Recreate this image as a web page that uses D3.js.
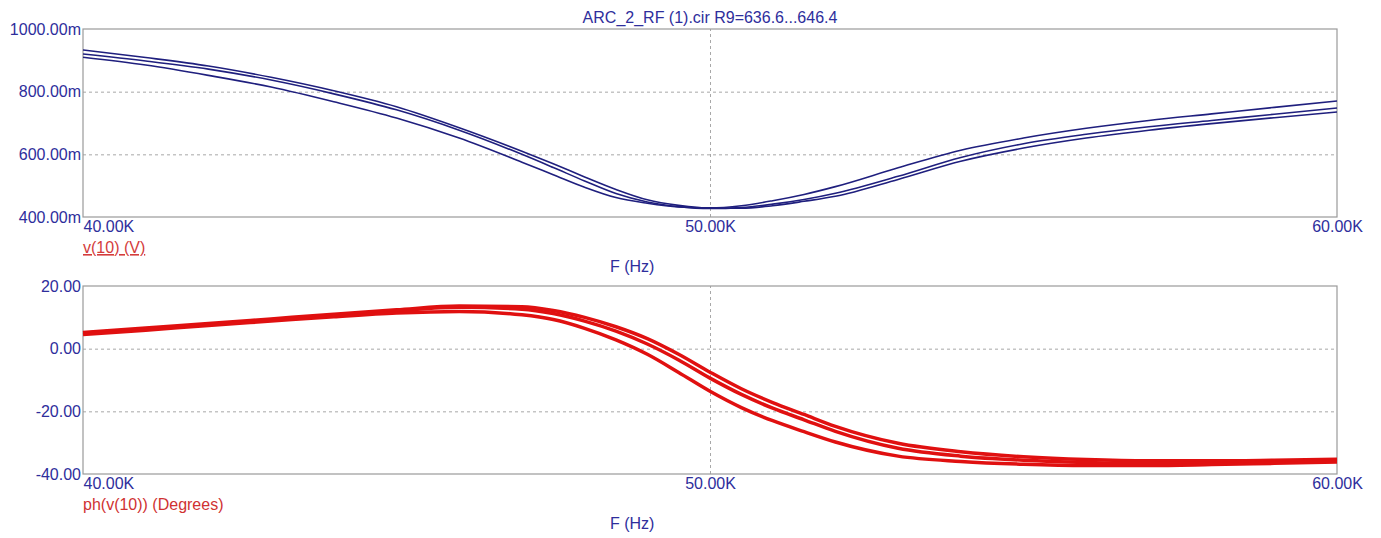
<!DOCTYPE html>
<html>
<head>
<meta charset="utf-8">
<script src="https://cdn.jsdelivr.net/npm/d3@7"></script>
<style>
  body { margin: 0; background: #fff; }
  svg { display: block; font-family: "Liberation Sans", Arial, sans-serif; }
</style>
</head>
<body>
<svg id="chart" width="1381" height="538"></svg>
<script>
// frequency points (kHz)
const freq = [40, 41, 42, 43, 44, 45, 46, 47, 47.5, 48, 48.5, 49, 49.5, 50, 50.5, 51, 51.5, 52, 53, 54, 55, 56, 57, 58, 59, 60];

// v(10) in mV, one array per R9 step
const magA = [933, 909, 882, 846, 803, 752, 685, 610, 570, 528, 488, 455, 437, 428, 428, 436, 450, 466, 520, 578, 620, 652, 677, 698, 717, 735];
const magB = [920, 898, 872, 837, 793, 742, 677, 600, 558, 515, 475, 448, 433, 427, 430, 441, 456, 476, 530, 590, 634, 664, 688, 708, 728, 748];
const magC = [910, 885, 852, 815, 768, 716, 652, 575, 535, 495, 462, 444, 432, 429, 436, 452, 472, 497, 557, 613, 652, 683, 708, 729, 750, 770];

// ph(v(10)) in degrees
const phA = [5.2, 6.6, 8.0, 9.5, 11.0, 12.4, 13.6, 13.4, 12.2, 10.0, 7.0, 3.2, -1.8, -7.5, -12.8, -17.2, -21.0, -24.8, -30.2, -32.9, -34.5, -35.4, -35.8, -35.8, -35.6, -35.3];
const phB = [4.9, 6.3, 7.7, 9.2, 10.7, 12.1, 13.2, 12.6, 11.2, 8.8, 5.6, 1.5, -3.6, -9.4, -14.6, -19.0, -22.7, -26.4, -31.8, -34.3, -35.6, -36.3, -36.6, -36.5, -36.2, -35.9];
const phC = [4.5, 5.9, 7.4, 8.8, 10.2, 11.4, 11.9, 10.8, 9.3, 6.5, 2.8, -1.8, -7.6, -13.6, -18.8, -23.0, -26.5, -29.8, -34.3, -36.0, -36.9, -37.3, -37.3, -37.0, -36.6, -36.2];

const xTicks = [40, 50, 60];
const magTicks = [400, 600, 800, 1000];
const phTicks = [-40, -20, 0, 20];

const title = "ARC_2_RF (1).cir R9=636.6...646.4";

const blue = "#2e2e9c";
const svg = d3.select("#chart");

const left = 83, right = 1337;
const x = d3.scaleLinear().domain([40, 60]).range([left, right]);

svg.append("text")
  .attr("x", 710).attr("y", 23)
  .attr("text-anchor", "middle")
  .style("font-size", "16px").style("fill", blue)
  .text(title);

function panel(cfg) {
  const y = d3.scaleLinear().domain(cfg.domain).range([cfg.bottom, cfg.top]);
  const g = svg.append("g");

  // grid
  g.append("g")
    .attr("transform", `translate(${left},0)`)
    .call(d3.axisLeft(y).tickValues(cfg.ticks.slice(1, -1)).tickSize(-(right - left)).tickFormat(""))
    .call(s => s.select(".domain").remove())
    .selectAll("line").attr("stroke", "#a8a8a8").attr("stroke-dasharray", "3,3");
  g.append("g")
    .attr("transform", `translate(0,${cfg.bottom})`)
    .call(d3.axisBottom(x).tickValues([50]).tickSize(-(cfg.bottom - cfg.top)).tickFormat(""))
    .call(s => s.select(".domain").remove())
    .selectAll("line").attr("stroke", "#a8a8a8").attr("stroke-dasharray", "3,3");

  // frame
  g.append("rect")
    .attr("x", left).attr("y", cfg.top)
    .attr("width", right - left).attr("height", cfg.bottom - cfg.top)
    .attr("fill", "none").attr("stroke", "#9a9a9a").attr("stroke-width", 1.2);

  // y labels
  g.append("g")
    .attr("transform", `translate(${left - 2},0)`)
    .call(d3.axisLeft(y).tickValues(cfg.ticks).tickSize(0).tickPadding(0).tickFormat(cfg.fmt))
    .call(s => s.select(".domain").remove())
    .selectAll("text")
    .style("font-size", "16px").style("fill", blue).style("font-family", "Liberation Sans, Arial, sans-serif");

  // x labels
  const xa = g.append("g")
    .attr("transform", `translate(0,${cfg.bottom})`)
    .call(d3.axisBottom(x).tickValues(xTicks).tickSize(0).tickPadding(4).tickFormat(d => d.toFixed(2) + "K"));
  xa.select(".domain").remove();
  xa.selectAll("text")
    .style("font-size", "16px").style("fill", blue).style("font-family", "Liberation Sans, Arial, sans-serif")
    .attr("text-anchor", d => d === 40 ? "start" : "middle");

  // curves
  const line = d3.line().x((d, i) => x(freq[i])).y(d => y(d)).curve(d3.curveMonotoneX);
  g.append("g").selectAll("path")
    .data(cfg.series)
    .join("path")
    .attr("d", line)
    .attr("fill", "none")
    .attr("stroke", cfg.color)
    .attr("stroke-width", cfg.width);

  // trace label
  g.append("text")
    .attr("x", left).attr("y", cfg.bottom + 36)
    .style("font-size", "16px").style("fill", cfg.labelColor)
    .style("text-decoration", cfg.underline ? "underline" : "none")
    .text(cfg.label);

  g.append("text")
    .attr("x", 610).attr("y", cfg.bottom + 55)
    .style("font-size", "16px").style("fill", blue)
    .text("F (Hz)");
}

panel({
  top: 29, bottom: 217, domain: [400, 1000], ticks: magTicks,
  fmt: d => d.toFixed(2) + "m",
  series: [magA, magB, magC], color: "#1f1f7e", width: 1.6,
  label: "v(10) (V)", labelColor: "#d43c3c", underline: true
});

panel({
  top: 286, bottom: 474, domain: [-40, 20], ticks: phTicks,
  fmt: d => d.toFixed(2),
  series: [phA, phB, phC], color: "#e01010", width: 3.5,
  label: "ph(v(10)) (Degrees)", labelColor: "#d03232", underline: false
});
</script>
</body>
</html>
